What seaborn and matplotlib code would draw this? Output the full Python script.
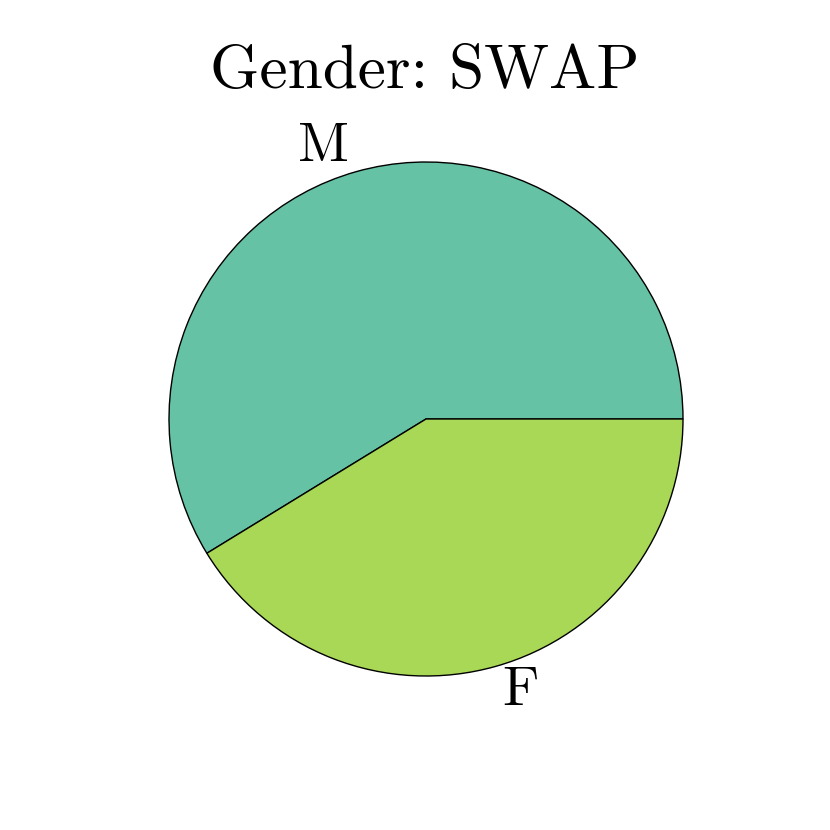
import matplotlib
matplotlib.use('Agg')
import matplotlib.pyplot as plt
import seaborn as sns

# Data
labels = ['M', 'F']
shares = [58.75, 41.25]
colors = ['#66c2a5', '#a8d856']

sns.set_theme(style='white')
plt.rcParams['font.family'] = ['cmr10', 'DejaVu Serif']
plt.rcParams['mathtext.fontset'] = 'cm'
plt.rcParams['axes.unicode_minus'] = False
plt.rcParams['text.color'] = 'black'

fig = plt.figure(figsize=(8.3, 8.3), dpi=100)
r = 257 / 830
ax = fig.add_axes([426 / 830 - r, 1 - 419 / 830 - r, 2 * r, 2 * r])
ax.pie(shares, labels=labels, colors=colors, startangle=0, counterclock=True,
       wedgeprops={'edgecolor': 'black', 'linewidth': 1.0},
       textprops={'fontsize': 40, 'color': 'black'})
ax.set_xlim(-1, 1)
ax.set_ylim(-1, 1)
ax.set_aspect('equal')
fig.text(425 / 830, 1 - 72 / 830, 'Gender: SWAP', fontsize=45.5,
         ha='center', va='center', color='black')

fig.savefig('out.png', dpi=100, facecolor='white')
